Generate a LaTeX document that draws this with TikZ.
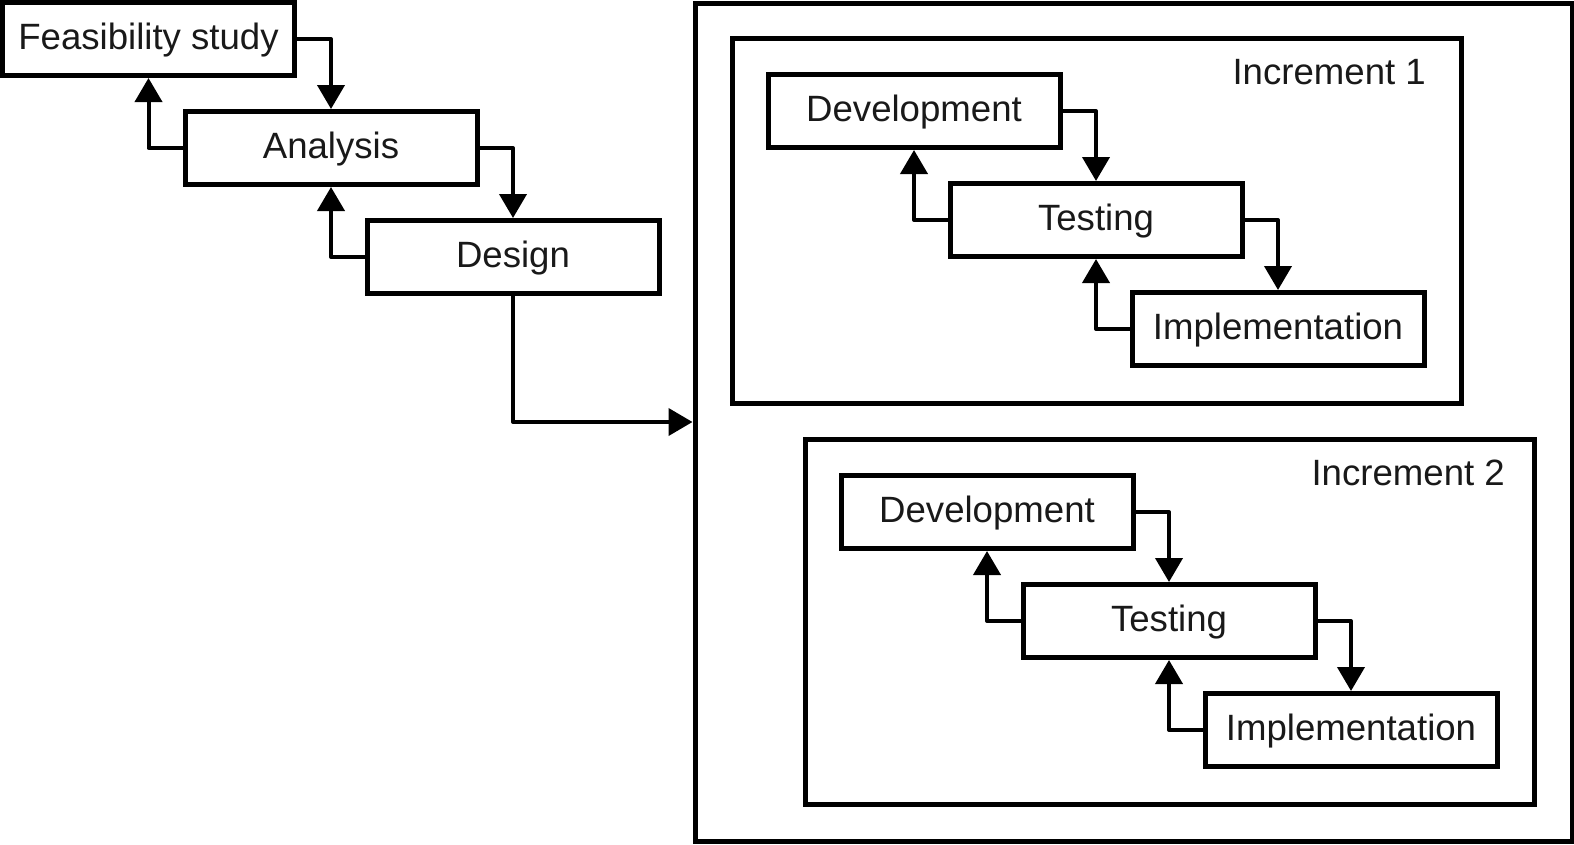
\documentclass[tikz,border=0pt]{standalone}
\usepackage{fontspec}
\setmainfont{Liberation Sans}
\usetikzlibrary{arrows.meta}
\begin{document}
\begin{tikzpicture}[x=1pt,y=-1pt,
  stage/.style={draw, line width=5pt, minimum width=292pt, minimum height=73pt, inner sep=0pt, text height=27pt, text depth=6pt, font=\fontsize{36.6}{40}\selectfont, text=black!90},
  frame/.style={draw, line width=5pt, inner sep=0pt},
  conn/.style={line width=4pt, line join=round, -{Triangle[width=27pt,length=24pt]}},
  lbl/.style={font=\fontsize{36.6}{40}\selectfont, inner sep=0pt, text height=27pt, text depth=6pt, text=black!90}]
\useasboundingbox (0,0) rectangle (1574,844);
% left waterfall
\node[stage] (fs) at (148.5,39) {Feasibility study};
\node[stage] (an) at (331,148) {Analysis};
\node[stage] (de) at (513,257) {Design};
% outer and increments
\node[frame, minimum width=877pt, minimum height=838pt] (outer) at (1133.5,422) {};
\node[frame, minimum width=729pt, minimum height=365pt] (inc1) at (1096.5,220.5) {};
\node[frame, minimum width=729pt, minimum height=365pt] (inc2) at (1169.5,621.5) {};
\node[lbl, anchor=east] (l1) at (1426,74) {Increment 1};
\node[lbl, anchor=east] (l2) at (1505,475) {Increment 2};
% increment 1
\node[stage] (dv1) at (914,111) {Development};
\node[stage] (ts1) at (1096,220) {Testing};
\node[stage] (im1) at (1278,329) {Implementation};
% increment 2
\node[stage] (dv2) at (987,512) {Development};
\node[stage] (ts2) at (1169,621) {Testing};
\node[stage] (im2) at (1351,730) {Implementation};
% connectors
\draw[conn] (fs.east) -| (an.north);
\draw[conn] (an.west) -| (fs.south);
\draw[conn] (an.east) -| (de.north);
\draw[conn] (de.west) -| (an.south);
\draw[conn] (de.south) |- (outer.west);
\draw[conn] (dv1.east) -| (ts1.north);
\draw[conn] (ts1.west) -| (dv1.south);
\draw[conn] (ts1.east) -| (im1.north);
\draw[conn] (im1.west) -| (ts1.south);
\draw[conn] (dv2.east) -| (ts2.north);
\draw[conn] (ts2.west) -| (dv2.south);
\draw[conn] (ts2.east) -| (im2.north);
\draw[conn] (im2.west) -| (ts2.south);
\end{tikzpicture}
\end{document}
